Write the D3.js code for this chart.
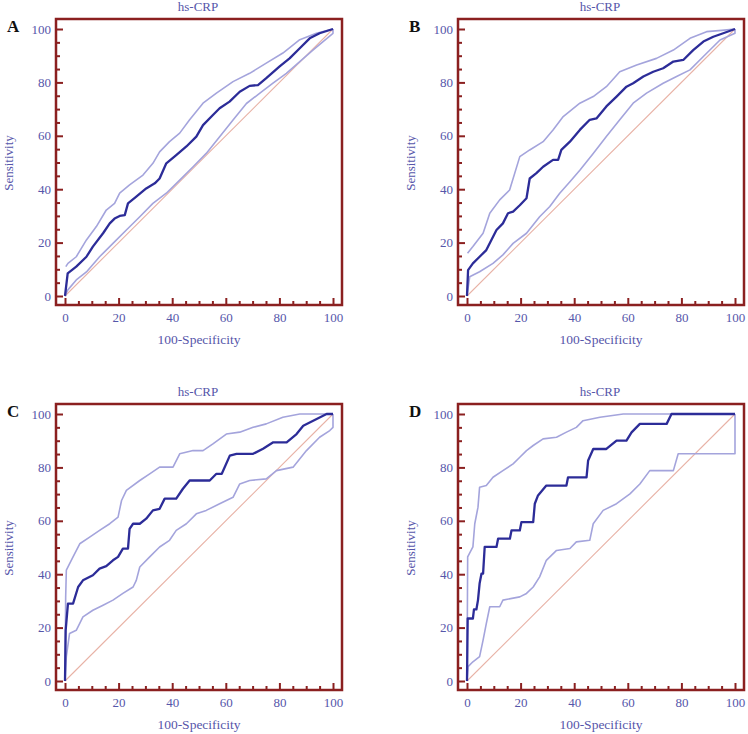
<!DOCTYPE html>
<html><head><meta charset="utf-8">
<script src="https://cdn.jsdelivr.net/npm/d3@7"></script>
<style>body{margin:0;background:#fff}svg{display:block}</style>
</head><body>
<script>
const panelLetters = ["A","B","C","D"];
const chartTitle = "hs-CRP";
const xLabel = "100-Specificity";
const yLabel = "Sensitivity";
const majorTicks = [0,20,40,60,80,100];
const minorTicks = [5,10,15,25,30,35,45,50,55,65,70,75,85,90,95];

const rocA = [[0,0],[1,8.5],[4.2,11],[8,14.7],[10.4,18.5],[14.2,23.5],[16.7,27.2],[18.5,29],[20.4,30],[22.3,30.3],[23.5,34.7],[26.6,37.2],[30.3,40.3],[33.5,42.2],[35.3,44],[37.8,49.7],[41.5,52.8],[45.3,56],[49,59.7],[51.5,64],[55.2,67.8],[57.7,70.3],[61.4,72.8],[65.2,76.5],[68.9,78.7],[72,79],[75.1,81.6],[80.1,86],[83.8,89],[87.6,92.8],[91.3,96.5],[95,98.4],[100,100]];
const upperA = [[0.3,11],[1.1,12.2],[4.2,14.7],[8,21],[11.7,26],[15.4,32.2],[18.5,34.7],[20.4,38.5],[24.1,41.6],[29.1,45.3],[32.8,49.7],[35.3,54],[39,57.8],[42.8,61],[46.5,66],[51.5,72.2],[56.5,76],[62.7,80.3],[68.9,83.4],[75.1,87.2],[81.3,91],[87.6,96],[93.8,98.4],[100,100]];
const lowerA = [[0,0],[1,2.2],[4.2,6],[8,9],[12.9,14.7],[17.9,19.7],[22.9,24.7],[27.9,29.7],[32.8,34.7],[37.8,38.5],[42.8,43.4],[47.8,48.4],[52.7,53.4],[57.7,59.6],[62.7,65.9],[67.7,72.1],[72.6,75.9],[77.6,79.7],[82.6,83.4],[87.6,87.8],[92.5,92.1],[96.3,95.3],[100,98.4],[100,100]];

const rocB = [[0,0],[0.4,9.7],[2.2,12.2],[4.7,14.7],[7.2,17.2],[9.1,21],[11,24.7],[13.4,27.2],[15.3,31],[17.2,31.6],[19.7,34],[22.2,36.6],[23.4,44],[25.9,46],[28.4,48.4],[32.1,51],[34,51],[35.2,54.7],[38.4,57.8],[42.1,62.2],[45.8,66],[48.3,66.5],[52,71],[55.8,74.7],[59.5,78.4],[62,79.7],[65.8,82.2],[69.5,84],[73.2,85.3],[77,87.8],[80.7,88.4],[84.4,92.1],[88.2,95.3],[91.9,97.1],[95.6,98.4],[100,100]];
const upperB = [[0.2,16],[2.2,18.5],[6,23.5],[8.5,31],[12.2,36],[15.9,39.7],[19.7,52.2],[23.4,54.7],[28.4,57.8],[32.1,62.2],[35.9,67.2],[42.1,72.2],[47.1,74.7],[52,78.4],[57,84],[63.3,86.5],[70.7,89],[77,92.1],[83.2,96.5],[89.4,99],[95,99.5],[100,100]];
const lowerB = [[0,0],[1,7.2],[4.7,9.1],[9.7,12.2],[13.4,15.4],[17.2,19.7],[22.2,23.5],[27.1,29.7],[30.9,33.5],[34.6,38.5],[38.4,42.8],[42.1,47.1],[47.1,53.4],[52,59.7],[57,66],[62,72.2],[67,76],[73.2,79.7],[78.2,82.2],[83.2,84.7],[88.2,89.7],[94.4,95.9],[100,98.4],[100,100]];

const rocC = [[0,0],[0.25,19],[1.1,29],[3,29],[4.9,35.2],[6.7,37.7],[10.4,39.6],[12.9,42.1],[15.4,43],[17.9,45.2],[19.8,46.5],[21.6,49.6],[23.5,49.6],[24.1,57],[25.4,58.9],[27.9,58.9],[30.3,60.8],[32.8,63.9],[35.3,64.5],[37.2,68.3],[41.5,68.3],[44,72],[46.5,75.1],[54,75.1],[56.5,77.6],[58.5,77.6],[61.5,84.4],[64,85.1],[70.2,85.1],[73.9,87],[77.7,89.4],[82.7,89.4],[86.4,92.5],[88.9,95.6],[93.9,98.1],[97.6,100],[100,100]];
const upperC = [[0,0],[0.25,31.5],[0.5,41.5],[3,46.5],[5.5,51.4],[9.2,53.9],[12.9,56.4],[16.7,58.9],[19.8,61.4],[21.1,67.6],[22.9,71.4],[27.9,75.1],[31.6,77.6],[35.3,80.1],[40.3,80.1],[42.8,85.1],[47.8,86.3],[51.5,86.3],[55.2,88.8],[60.2,92.5],[65.2,93.2],[70.2,95],[75.1,96.3],[81.3,98.8],[87.6,100],[100,100]];
const lowerC = [[0,0],[0.5,9.1],[1.7,17.8],[4.2,19],[6.7,24],[10.4,26.5],[14.2,28.4],[17.9,30.3],[21.6,32.8],[25.4,35.2],[26.6,37.7],[27.9,42.7],[31.6,46.5],[35.3,50.2],[39,52.7],[41.5,56.4],[45.3,58.9],[49,62.6],[52.7,63.9],[57.7,66.4],[62.7,68.8],[65.2,73.8],[68.9,75.1],[75.1,75.7],[78.9,78.8],[85.1,80.1],[90.1,86.3],[95,91.3],[98.8,93.8],[100,95],[100,100]];

const rocD = [[0,0],[0.25,23.4],[2.2,23.4],[2.6,26.8],[3.5,26.8],[4.1,30.3],[4.7,36.5],[5.4,40.2],[6,40.2],[6.6,50.2],[11,50.2],[11.6,53.3],[16,53.3],[16.6,56.4],[19.7,56.4],[20.3,59.5],[24.7,59.5],[25.3,66.4],[26.5,69.5],[29.6,73.2],[37.1,73.2],[37.7,76.3],[44.6,76.3],[45.2,82.6],[47.1,86.9],[52,86.9],[55.8,90],[59.5,90],[61.4,93.1],[64.5,96.3],[74.5,96.3],[76.3,100],[100,100]];
const upperD = [[0,0],[0.25,46.5],[2.2,50.2],[2.9,58.9],[4.1,65.1],[4.7,72.6],[7.2,73.2],[9.7,76.3],[13.4,78.8],[17.2,81.3],[19.7,83.8],[22.2,86.3],[24.7,88.2],[28.4,90.7],[33.4,91.3],[37.1,93.2],[40.8,95],[43.3,97.5],[49.6,98.8],[58.3,100],[100,100]];
const lowerD = [[0,0],[0.4,5.4],[2.2,7.2],[4.7,9.1],[6,15.3],[7.2,21.5],[8.5,27.8],[12.2,27.8],[13.4,30.3],[19.7,31.5],[22.2,32.8],[24.7,35.2],[27.1,39],[29.6,45.2],[33.4,48.9],[38.4,49.6],[40.8,52.1],[45.8,52.7],[47.1,58.9],[50.8,63.9],[55.8,66.4],[60.8,70.1],[64.5,73.8],[68.2,78.8],[77,78.8],[78.8,85.1],[100,85.1],[100,100]];

const panelMain = [rocA, rocB, rocC, rocD];
const panelUpper = [upperA, upperB, upperC, upperD];
const panelLower = [lowerA, lowerB, lowerC, lowerD];
const diagonal = [[0,0],[100,100]];

const W = 748, H = 734;
const svg = d3.select("body").append("svg").attr("width", W).attr("height", H);

const frameW = 286, frameH = 286, pad = 9;
const origins = [[56,19],[458,19],[56,404],[458,404]];
const frameColor = "#8b2020";
const textColor = "#5656aa";
const font = "'Liberation Serif','Times New Roman',serif";

panelLetters.forEach((letter, i) => {
  const [fx, fy] = origins[i];
  const g = svg.append("g").attr("transform", `translate(${fx},${fy})`);
  const x = d3.scaleLinear().domain([0,100]).range([pad, frameW - pad]);
  const y = d3.scaleLinear().domain([0,100]).range([frameH - pad, pad + 1]);

  const line = d3.line().x(d => x(d[0])).y(d => y(d[1]));
  g.append("path").datum(diagonal).attr("d", line).attr("fill","none")
    .attr("stroke","#e8b2a6").attr("stroke-width",1.1);
  g.append("path").datum(panelLower[i]).attr("d", line).attr("fill","none")
    .attr("stroke","#a4a4dc").attr("stroke-width",1.6).attr("stroke-linejoin","round");
  g.append("path").datum(panelUpper[i]).attr("d", line).attr("fill","none")
    .attr("stroke","#a4a4dc").attr("stroke-width",1.6).attr("stroke-linejoin","round");
  g.append("path").datum(panelMain[i]).attr("d", line).attr("fill","none")
    .attr("stroke","#2c2c98").attr("stroke-width",2.3).attr("stroke-linejoin","round");

  const yAx = g.append("g").call(d3.axisLeft(y).tickValues(majorTicks).tickSize(-7).tickPadding(5));
  const yMin = g.append("g").call(d3.axisLeft(y).tickValues(minorTicks).tickSize(-4).tickFormat(""));
  const xAx = g.append("g").attr("transform",`translate(0,${frameH})`)
    .call(d3.axisBottom(x).tickValues(majorTicks).tickSize(-7).tickPadding(8));
  const xMin = g.append("g").attr("transform",`translate(0,${frameH})`)
    .call(d3.axisBottom(x).tickValues(minorTicks).tickSize(-4).tickFormat(""));
  [yAx,yMin,xAx,xMin].forEach(a => {
    a.select(".domain").remove();
    a.selectAll("line").attr("stroke", frameColor).attr("stroke-width", 2);
    a.selectAll("text").attr("fill", textColor).style("font-family", font).style("font-size","13px");
  });

  g.append("rect").attr("x",0).attr("y",0).attr("width",frameW).attr("height",frameH)
    .attr("fill","none").attr("stroke",frameColor).attr("stroke-width",2.5);

  g.append("text").attr("x", frameW/2 - 1).attr("y", -8).attr("text-anchor","middle")
    .attr("fill", textColor).style("font-family", font).style("font-size","13px").text(chartTitle);
  g.append("text").attr("x", frameW/2).attr("y", 325).attr("text-anchor","middle")
    .attr("fill", textColor).style("font-family", font).style("font-size","13.5px").text(xLabel);
  g.append("text").attr("transform", `translate(${-43},${frameH/2 + 1}) rotate(-90)`)
    .attr("text-anchor","middle").attr("fill", textColor)
    .style("font-family", font).style("font-size","13px").text(yLabel);
  g.append("text").attr("x", -49).attr("y", 12.5).attr("text-anchor","start")
    .attr("fill","#111").style("font-family", font).style("font-weight","bold").style("font-size","17px").text(letter);
});
</script>
</body></html>
